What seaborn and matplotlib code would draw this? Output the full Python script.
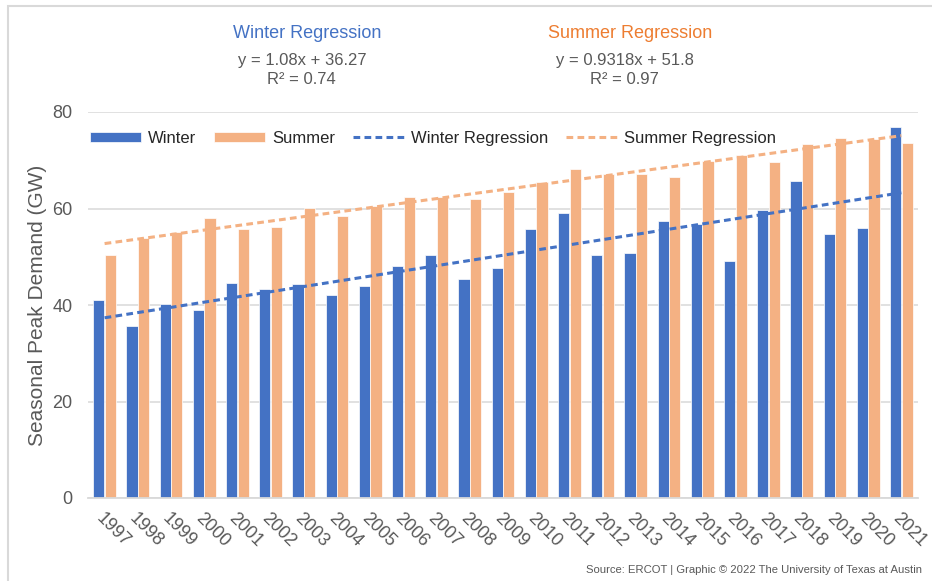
"""
Seasonal peak demand in ERCOT, winter vs summer, with linear trend lines.
"""

import numpy as np
import pandas as pd
import seaborn as sns
import matplotlib.pyplot as plt
from matplotlib.patches import Rectangle
from matplotlib.ticker import FixedLocator
from matplotlib.transforms import ScaledTranslation


# ---- data ----
years = [str(y) for y in range(1997, 2022)]
winter = [41.0, 35.6, 40.2, 39.0, 44.6, 43.3, 44.4, 42.1, 43.9, 48.1,
          50.4, 45.4, 47.7, 55.8, 59.1, 50.4, 50.8, 57.4, 56.8, 49.1,
          59.7, 65.7, 54.7, 56.0, 76.9]
summer = [50.4, 53.9, 55.1, 58.0, 55.8, 56.2, 60.1, 58.4, 60.5, 62.4,
          62.4, 62.0, 63.4, 65.5, 68.2, 67.2, 67.2, 66.5, 69.8, 71.1,
          69.6, 73.4, 74.6, 74.4, 73.6]

# trend lines as reported on the chart (x = 1 .. 25)
winter_fit = (1.08, 36.27, 0.74)
summer_fit = (0.9318, 51.8, 0.97)

BLUE = "#4472C4"
ORANGE = "#F4B183"
ORANGE_DARK = "#ED7D31"
GREY = "#595959"
LIGHT = "#D9D9D9"


def init_figure():
    """
    Initialize the figure.
    """
    sns.set_style("white")
    plt.rcParams["font.family"] = ["Liberation Sans", "DejaVu Sans"]
    fig = plt.figure(figsize=(9.32, 5.81), dpi=100)
    ax = fig.add_axes([88 / 932, 1 - 498 / 581, 830 / 932, 386 / 581])
    return fig, ax


def main():
    fig, ax = init_figure()

    df = pd.DataFrame({
        "year": years * 2,
        "demand": winter + summer,
        "season": ["Winter"] * len(years) + ["Summer"] * len(years),
    })

    sns.barplot(data=df, x="year", y="demand", hue="season",
                palette={"Winter": BLUE, "Summer": ORANGE},
                width=0.7, gap=0.04, saturation=1,
                edgecolor="white", linewidth=0.5, ax=ax)

    # Regression lines
    pos = np.arange(len(years))
    wy = winter_fit[0] * (pos + 1) + winter_fit[1]
    sy = summer_fit[0] * (pos + 1) + summer_fit[1]
    sns.lineplot(x=pos, y=wy, color=BLUE, lw=2.2, ax=ax,
                 label="Winter Regression", dashes=False)
    sns.lineplot(x=pos, y=sy, color=ORANGE, lw=2.2, ax=ax,
                 label="Summer Regression", dashes=False)
    for ln in ax.get_lines()[-2:]:
        ln.set_linestyle((0, (2.2, 1.4)))

    # Axes styling
    ax.set_ylim(0, 80)
    ax.set_xlim(-0.5, len(years) - 0.5)
    ax.set_yticks([0, 20, 40, 60, 80])
    ax.yaxis.grid(True, color=LIGHT, lw=1.1)
    ax.set_axisbelow(True)
    for s in ["top", "right", "left"]:
        ax.spines[s].set_visible(False)
    ax.spines["bottom"].set_color(LIGHT)
    ax.spines["bottom"].set_linewidth(1.3)

    ax.set_xlabel("")
    ax.set_ylabel("Seasonal Peak Demand (GW)", fontsize=15, color=GREY, labelpad=4)
    ax.tick_params(axis="y", length=0, pad=11, labelsize=13, labelcolor=GREY)
    ax.tick_params(axis="x", which="major", length=0, pad=13,
                   labelsize=13, labelcolor=GREY)
    ax.xaxis.set_minor_locator(FixedLocator(np.arange(len(years) + 1) - 0.5))
    ax.tick_params(axis="x", which="minor", length=5, width=1.1,
                   color=LIGHT, direction="out")
    shift = ScaledTranslation(-6 / 100, 0, fig.dpi_scale_trans)
    for lab in ax.get_xticklabels():
        lab.set_rotation(-45)
        lab.set_ha("left")
        lab.set_va("center")
        lab.set_rotation_mode("anchor")
        lab.set_transform(lab.get_transform() + shift)

    # Legend
    handles, labels = ax.get_legend_handles_labels()
    order = ["Winter", "Summer", "Winter Regression", "Summer Regression"]
    hmap = dict(zip(labels, handles))
    ax.legend([hmap[k] for k in order], order, loc="upper left",
              bbox_to_anchor=(-0.002, 0.96), ncol=4, frameon=False,
              fontsize=12, handlelength=3.1, handleheight=0.55,
              handletextpad=0.4, columnspacing=1.05, borderaxespad=0,
              borderpad=0.2)

    # Regression annotations above the plot
    def annotate(xc, title, color, fit):
        fig.text(xc / 932, 1 - 33 / 581, title, color=color, fontsize=13,
                 ha="center", va="center")
        fig.text((xc - 5) / 932, 1 - 60 / 581,
                 "y = {}x + {}".format(fit[0], fit[1]),
                 color=GREY, fontsize=12, ha="center", va="center")
        fig.text((xc - 6) / 932, 1 - 80 / 581, "R² = {}".format(fit[2]),
                 color=GREY, fontsize=12, ha="center", va="center")

    annotate(307, "Winter Regression", BLUE, winter_fit)
    annotate(630, "Summer Regression", ORANGE_DARK, summer_fit)

    # Source line
    fig.text(922 / 932, 1 - 570 / 581,
             "Source: ERCOT | Graphic © 2022 The University of Texas at Austin",
             color=GREY, fontsize=8.1, ha="right", va="center")

    # Outer frame (partly cropped on right / bottom)
    fig.add_artist(Rectangle((7.5 / 932, -0.1), 1.2, 1.1 - 6 / 581,
                             transform=fig.transFigure, fill=False,
                             edgecolor=LIGHT, lw=1.5))

    fig.savefig("out.png", dpi=100, facecolor="white")


if __name__ == "__main__":
    main()
